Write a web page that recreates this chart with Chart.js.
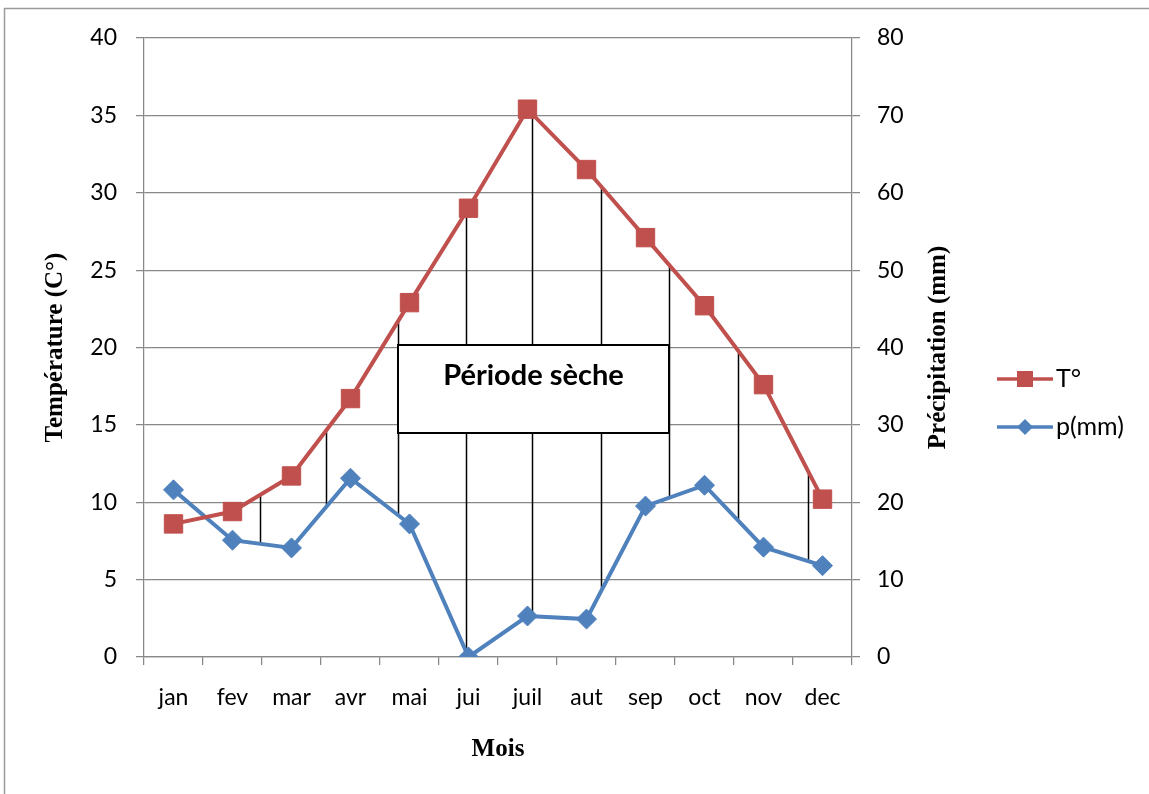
<!DOCTYPE html>
<html>
<head>
<meta charset="utf-8">
<script src="https://cdn.jsdelivr.net/npm/chart.js@4"></script>
<style>
  html, body { margin: 0; padding: 0; background: #fff; }
  #wrap { width: 1149px; height: 794px; position: relative; }
</style>
</head>
<body>
<div id="wrap"><canvas id="diagramme"></canvas></div>
<script>
// Données
const mois = ['jan', 'fev', 'mar', 'avr', 'mai', 'jui', 'juil', 'aut', 'sep', 'oct', 'nov', 'dec'];
const temperature = [8.6, 9.4, 11.7, 16.7, 22.9, 29.0, 35.4, 31.5, 27.1, 22.7, 17.6, 10.2];
const precipitation = [21.6, 15.1, 14.1, 23.1, 17.2, 0, 5.3, 4.9, 19.5, 22.2, 14.2, 11.8];
const ticksTemp = [0, 5, 10, 15, 20, 25, 30, 35, 40];
const ticksPrec = [0, 10, 20, 30, 40, 50, 60, 70, 80];

// Hachures de la période sèche (position en mois, 0 = jan)
const hachures = [1.46, 2.58, 3.8, 4.95, 6.07, 7.25, 8.4, 9.56, 10.75];
// Encadré "Période sèche" (en °C sur l'axe gauche)
const cadreHaut = 20.15;
const cadreBas = 14.45;

const rouge = '#C0504D';
const bleu = '#4F81BD';
const grille = '#888888';

// Interpolation entre deux mois pour les hachures
function valeurA(arr, t) {
    const i = Math.floor(t);
    const f = t - i;
    const j = Math.min(i + 1, arr.length - 1);
    return arr[i] + (arr[j] - arr[i]) * f;
}

const periodeSeche = {
    id: 'periodeSeche',
    beforeDraw(chart) {
        const ctx = chart.ctx;
        ctx.save();
        ctx.strokeStyle = '#9a9a9a';
        ctx.lineWidth = 1.5;
        ctx.strokeRect(4.5, 8.5, 3000, 3000);
        ctx.restore();
    },
    beforeDatasetsDraw(chart) {
        const {ctx, scales: {x, y, y1}} = chart;
        const pas = x.getPixelForValue(1) - x.getPixelForValue(0);
        const px = t => x.getPixelForValue(0) + t * pas;
        ctx.save();
        ctx.strokeStyle = '#000';
        ctx.lineWidth = 1.5;
        hachures.forEach(t => {
            const xp = Math.round(px(t)) + 0.5;
            ctx.beginPath();
            ctx.moveTo(xp, y.getPixelForValue(valeurA(temperature, t)));
            ctx.lineTo(xp, y1.getPixelForValue(valeurA(precipitation, t)));
            ctx.stroke();
        });
        // encadré
        const gauche = Math.round(px(hachures[2]));
        const droite = Math.round(px(hachures[6]));
        const haut = Math.round(y.getPixelForValue(cadreHaut));
        const bas = Math.round(y.getPixelForValue(cadreBas));
        ctx.fillStyle = '#fff';
        ctx.fillRect(gauche, haut, droite - gauche, bas - haut);
        ctx.lineWidth = 2;
        ctx.strokeRect(gauche, haut, droite - gauche, bas - haut);
        ctx.fillStyle = '#000';
        ctx.font = 'bold 29px Lato';
        ctx.textAlign = 'center';
        ctx.textBaseline = 'middle';
        ctx.fillText('Période sèche', (gauche + droite) / 2, haut + 31);
        ctx.restore();
    },
    afterDraw(chart) {
        const {ctx, scales: {y1}} = chart;
        ctx.save();
        // titre de l'axe droit (lu de bas en haut)
        ctx.font = 'bold 25px "Liberation Serif"';
        ctx.fillStyle = '#000';
        ctx.textAlign = 'center';
        ctx.textBaseline = 'middle';
        ctx.translate(939, (y1.top + y1.bottom) / 2);
        ctx.rotate(-Math.PI / 2);
        ctx.fillText('Précipitation (mm)', 0, 0);
        ctx.restore();

        // légende
        ctx.save();
        chart.data.datasets.forEach((ds, i) => {
            const ly = 379 + i * 48;
            ctx.strokeStyle = ds.borderColor;
            ctx.lineWidth = 3.5;
            ctx.beginPath();
            ctx.moveTo(997, ly);
            ctx.lineTo(1053, ly);
            ctx.stroke();
            ctx.fillStyle = ds.borderColor;
            ctx.beginPath();
            if (ds.pointStyle === 'rect') {
                ctx.rect(1025 - 8, ly - 8, 16, 16);
            } else {
                ctx.moveTo(1025 - 8, ly);
                ctx.lineTo(1025, ly - 8);
                ctx.lineTo(1025 + 8, ly);
                ctx.lineTo(1025, ly + 8);
                ctx.closePath();
            }
            ctx.fill();
            ctx.fillStyle = '#000';
            ctx.font = '25px Lato';
            ctx.textAlign = 'left';
            ctx.textBaseline = 'middle';
            ctx.fillText(ds.label, 1056, ly);
        });
        ctx.restore();
    }
};

new Chart(document.getElementById('diagramme'), {
    type: 'line',
    data: {
        labels: mois,
        datasets: [{
            label: 'T°',
            data: temperature,
            yAxisID: 'y',
            borderColor: rouge,
            backgroundColor: rouge,
            borderWidth: 4,
            pointStyle: 'rect',
            pointRadius: 13,
            pointBorderWidth: 1,
            tension: 0,
        }, {
            label: 'p(mm)',
            data: precipitation,
            yAxisID: 'y1',
            borderColor: bleu,
            backgroundColor: bleu,
            borderWidth: 4,
            pointStyle: 'rectRot',
            pointRadius: 10,
            pointBorderWidth: 1,
            tension: 0,
        }],
    },
    options: {
        responsive: true,
        maintainAspectRatio: false,
        animation: false,
        layout: {
            padding: { left: 0, top: 38, right: 187, bottom: 0 },
        },
        plugins: {
            legend: { display: false },
            tooltip: { enabled: false },
        },
        scales: {
            x: {
                offset: true,
                grid: {
                    offset: true,
                    drawOnChartArea: false,
                    drawTicks: true,
                    tickLength: 8,
                    color: grille,
                    lineWidth: 1.25,
                },
                border: { color: grille, width: 1.25 },
                ticks: {
                    color: '#000',
                    padding: 19,
                    font: { family: 'Lato', size: 23 },
                },
                title: {
                    display: true,
                    text: 'Mois',
                    color: '#000',
                    padding: { top: 0, bottom: 29 },
                    font: { family: 'Liberation Serif', size: 25, weight: 'bold' },
                },
                afterFit(scale) { scale.height = 137; },
            },
            y: {
                position: 'left',
                min: 0,
                max: 40,
                afterBuildTicks(scale) { scale.ticks = ticksTemp.map(v => ({ value: v })); },
                grid: {
                    color: grille,
                    lineWidth: 1.25,
                    tickLength: 8,
                },
                border: { color: grille, width: 1.25 },
                ticks: {
                    color: '#000',
                    padding: 19,
                    font: { family: 'Lato', size: 23 },
                },
                title: {
                    display: true,
                    text: 'Température (C°)',
                    color: '#000',
                    padding: { top: 41, bottom: 0 },
                    font: { family: 'Liberation Serif', size: 25, weight: 'bold' },
                },
                afterFit(scale) { scale.width = 144; },
            },
            y1: {
                position: 'right',
                min: 0,
                max: 80,
                afterBuildTicks(scale) { scale.ticks = ticksPrec.map(v => ({ value: v })); },
                grid: {
                    drawOnChartArea: false,
                    color: grille,
                    lineWidth: 1.25,
                    tickLength: 8,
                },
                border: { color: grille, width: 1.25 },
                ticks: {
                    color: '#000',
                    padding: 17,
                    font: { family: 'Lato', size: 23 },
                },
                afterFit(scale) { scale.width = 110; },
            },
        },
    },
    plugins: [periodeSeche],
});
</script>
</body>
</html>
